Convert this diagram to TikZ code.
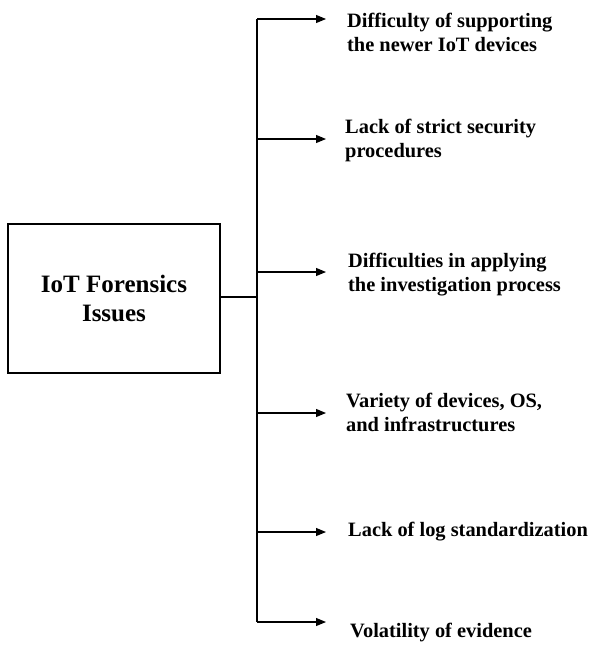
\documentclass[tikz,border=0pt]{standalone}
\usepackage{fontspec}
\setmainfont{Liberation Serif}
\usetikzlibrary{arrows.meta}
\begin{document}
\begin{tikzpicture}[x=1pt,y=-1pt,
  line/.style={line width=1.1pt, black},
  arr/.style={line width=1.1pt, -{Triangle[length=10pt,width=8pt]}},
  issue/.style={anchor=west, align=left, inner sep=0pt, font=\bfseries\fontsize{20.4}{24}\selectfont},
  mainbox/.style={draw, line width=1.6pt, minimum width=212pt, minimum height=149pt, align=center, inner sep=0pt, font=\bfseries\fontsize{25}{29}\selectfont}]
\useasboundingbox (0,0) rectangle (594,645);
\node[mainbox] (box) at (114,298.5) {IoT Forensics\\Issues};
\coordinate (j) at (257,297);
\coordinate (top) at (257,19);
\coordinate (bot) at (257,622);
\draw[line] (box.east |- j) -- (j);
\draw[line] (top) -- (bot);
% branch points and tips
\coordinate (b1) at (257,19);   \coordinate (e1) at (326,19);
\coordinate (b2) at (257,139);  \coordinate (e2) at (326,139);
\coordinate (b3) at (257,272);  \coordinate (e3) at (326,272);
\coordinate (b4) at (257,413);  \coordinate (e4) at (326,413);
\coordinate (b5) at (257,532);  \coordinate (e5) at (326,532);
\coordinate (b6) at (257,622);  \coordinate (e6) at (326,622);
\foreach \i in {1,...,6} \draw[arr] (b\i) -- (e\i);
\node[issue] (n1) at (347,32) {Difficulty of supporting\\the newer IoT devices};
\node[issue] (n2) at (345,140) {Lack of strict security\\procedures};
\node[issue] (n3) at (348,275) {Difficulties in applying\\the investigation process};
\node[issue] (n4) at (346,412) {Variety of devices, OS,\\and infrastructures};
\node[issue] (n5) at (348,532) {Lack of log standardization};
\node[issue] (n6) at (350,633) {Volatility of evidence};
\end{tikzpicture}
\end{document}
